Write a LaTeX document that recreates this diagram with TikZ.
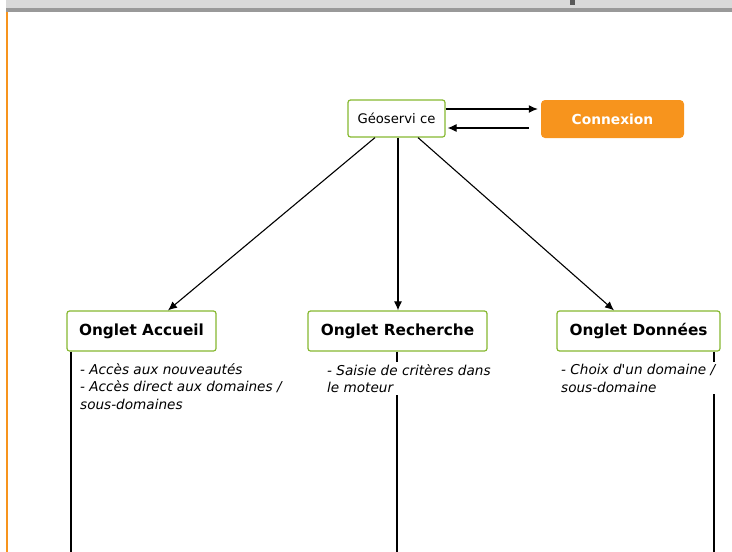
\documentclass[tikz,border=0pt]{standalone}
\usepackage{fontspec}
\setmainfont{DejaVu Sans}
\usepackage{xcolor}
\usetikzlibrary{positioning,arrows.meta}
\definecolor{vertcadre}{HTML}{86B830}
\definecolor{orangecnx}{HTML}{F7941D}
\definecolor{grisclair}{HTML}{D9D9D9}
\definecolor{grisfonce}{HTML}{999999}

\tikzset{
  onglet/.style={draw=vertcadre, line width=1.2pt, rounded corners=2.5pt, fill=white,
    minimum height=40pt, font=\fontsize{15.3}{17}\selectfont\bfseries},
  remarque/.style={anchor=north west, fill=white, inner sep=2pt, align=left,
    font=\fontsize{13.6}{17.5}\selectfont\itshape},
  fleche/.style={-{Latex[length=9pt,width=8pt]}, line width=1.1pt},
  trait/.style={line width=1.2pt}
}

\begin{document}
\begin{tikzpicture}[x=1pt, y=-1pt]
    \useasboundingbox (0,0) rectangle (732,552);
    % bandeau du haut
    \fill[grisclair] (5.6,0) rectangle (732,8);
    \fill[grisfonce] (5.6,8) rectangle (732,12);
    \fill[black!65] (570,0) rectangle (575,5);
    \draw[orangecnx, line width=1.3pt] (7,12) -- (7,552);

    \node[draw=vertcadre, line width=1.2pt, rounded corners=2.5pt, minimum width=97pt,
      minimum height=37pt, font=\fontsize{13.2}{15}\selectfont] (geo) at (396.5,118.5) {Géoservi ce};
    \node[fill=orangecnx, rounded corners=4pt, minimum width=143pt, minimum height=38pt,
      text=white, font=\fontsize{13.8}{15}\selectfont\bfseries] (cnx) at (612.5,119) {Connexion};

    \node[onglet, minimum width=149pt] (accueil) at (141.5,331) {Onglet Accueil};
    \node[onglet, minimum width=179pt] (recherche) at (397.5,331) {Onglet Recherche};
    \node[onglet, minimum width=163pt] (donnees) at (638.5,331) {Onglet Données};

    \draw[fleche, shorten >=3pt] ([yshift=9.5pt]geo.east) -- ([yshift=10pt]cnx.west);
    \draw[fleche, shorten >=2pt] ([xshift=-12pt,yshift=-9pt]cnx.west) -- ([yshift=-9.5pt]geo.east);

    \draw[fleche] ([xshift=-21.5pt]geo.south) -- ([xshift=26.5pt]accueil.north);
    \draw[fleche] ([xshift=1.5pt]geo.south) -- ([xshift=0.5pt]recherche.north);
    \draw[fleche] ([xshift=21.5pt]geo.south) -- ([xshift=-24.5pt]donnees.north);

    % traits verticaux
    \coordinate (bas1) at (71,552);
    \coordinate (bas2) at (397,552);
    \coordinate (bas3) at (714,552);
    \draw[trait] (accueil.south west -| bas1) -- (bas1);
    \draw[trait] (recherche.south -| bas2) -- (bas2);
    \draw[trait] (donnees.south east -| bas3) -- (bas3);

    \node[remarque] (txt1) at (78,361) {- Accès aux nouveautés\\- Accès direct aux domaines /\\sous-domaines};
    \node[remarque] (txt2) at (325,362) {- Saisie de critères dans\\le moteur};
    \node[remarque] (txt3) at (559,362) {- Choix d\textquotesingle un domaine /\\sous-domaine};
\end{tikzpicture}
\end{document}
